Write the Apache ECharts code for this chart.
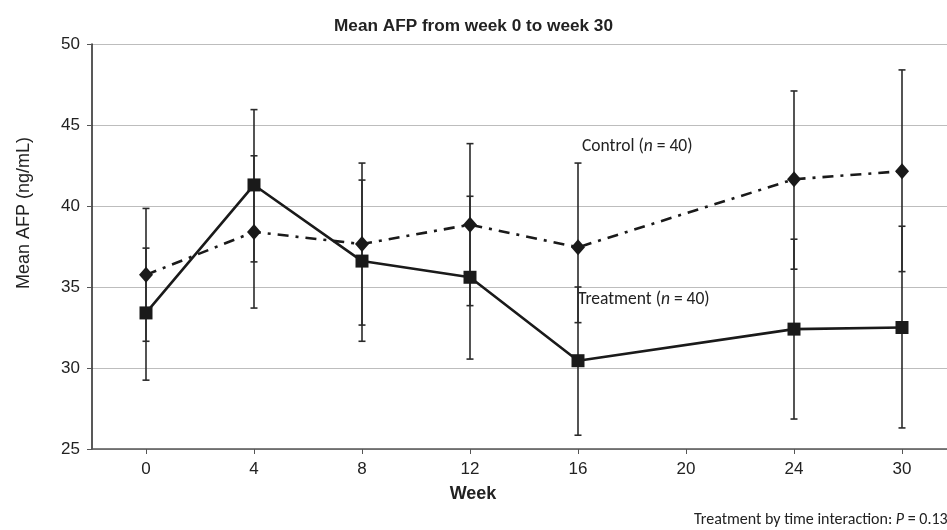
<!DOCTYPE html>
<html>
<head>
<meta charset="utf-8">
<script src="https://cdn.jsdelivr.net/npm/echarts@6/dist/echarts.min.js"></script>
<style>
html,body{margin:0;padding:0;background:#fff;}
#chart{width:947px;height:530px;}
</style>
</head>
<body>
<div id="chart"></div>
<script>
const weeks = ['0', '4', '8', '12', '16', '20', '24', '30'];
const treatment     = [33.4, 41.3, 36.6, 35.6, 30.45, null, 32.4, 32.5];
const treatmentLow  = [29.25, 36.55, 31.65, 30.55, 25.85, null, 26.85, 26.3];
const treatmentHigh = [37.4, 45.95, 41.6, 40.6, 35.0, null, 37.95, 38.75];
const control       = [35.75, 38.4, 37.65, 38.85, 37.45, null, 41.65, 42.15];
const controlLow    = [31.65, 33.7, 32.65, 33.85, 32.8, null, 36.1, 35.95];
const controlHigh   = [39.85, 43.1, 42.65, 43.85, 42.65, null, 47.1, 48.4];
const yTicks = [25, 30, 35, 40, 45, 50];

function errData(lo, hi) {
  const out = [];
  for (let i = 0; i < lo.length; i++) {
    if (lo[i] != null && hi[i] != null) out.push([i, lo[i], hi[i]]);
  }
  return out;
}

function renderErr(params, api) {
  const i = api.value(0);
  const p1 = api.coord([i, api.value(1)]);
  const p2 = api.coord([i, api.value(2)]);
  const cw = 3.5;
  const st = { stroke: '#2a2a2a', lineWidth: 1.6 };
  return {
    type: 'group',
    children: [
      { type: 'line', shape: { x1: p1[0], y1: p1[1], x2: p2[0], y2: p2[1] }, style: st },
      { type: 'line', shape: { x1: p1[0] - cw, y1: p1[1], x2: p1[0] + cw, y2: p1[1] }, style: st },
      { type: 'line', shape: { x1: p2[0] - cw, y1: p2[1], x2: p2[0] + cw, y2: p2[1] }, style: st }
    ]
  };
}

const chart = echarts.init(document.getElementById('chart'), null, { renderer: 'canvas' });
chart.setOption({
  animation: false,
  backgroundColor: '#fff',
  title: {
    text: 'Mean AFP from week 0 to week 30',
    left: 'center',
    top: 13,
    textStyle: { fontFamily: '"Liberation Sans", Arial, sans-serif', fontWeight: 'bold', fontSize: 17.2, color: '#222' }
  },
  grid: { left: 92, width: 864, top: 44, height: 405, containLabel: false, outerBoundsMode: 'none' },
  xAxis: {
    type: 'category',
    data: weeks,
    boundaryGap: true,
    axisLine: { lineStyle: { color: '#555', width: 1.5 } },
    axisTick: { show: true, alignWithLabel: true, length: 5, lineStyle: { color: '#555' } },
    axisLabel: { fontFamily: 'Liberation Sans, Arial, sans-serif', fontSize: 17, color: '#222', margin: 12 },
    splitLine: { show: false }
  },
  yAxis: {
    type: 'value',
    min: yTicks[0],
    max: yTicks[yTicks.length - 1],
    interval: 5,
    axisLine: { show: true, lineStyle: { color: '#222', width: 1.5 } },
    axisTick: { show: true, length: 5, lineStyle: { color: '#555' } },
    axisLabel: { fontFamily: 'Liberation Sans, Arial, sans-serif', fontSize: 17, color: '#222', margin: 12 },
    splitLine: { show: true, lineStyle: { color: '#bdbdbd', width: 1 } }
  },
  graphic: [
    {
      type: 'text', x: 24, y: 213, rotation: Math.PI / 2,
      style: { text: 'Mean AFP (ng/mL)', font: '18px "Liberation Sans", Arial, sans-serif', fill: '#222', textAlign: 'center', textVerticalAlign: 'middle' }
    },
    {
      type: 'text', x: 473, y: 494,
      style: { text: 'Week', font: 'bold 18px "Liberation Sans", Arial, sans-serif', fill: '#222', textAlign: 'center', textVerticalAlign: 'middle' }
    },
    {
      type: 'text', x: 582, y: 147,
      style: {
        text: 'Control ({i|n} = 40)', fill: '#222', fontFamily: 'Carlito, Lato, sans-serif', fontSize: 17.5,
        textVerticalAlign: 'middle',
        rich: { i: { fontStyle: 'italic', fontFamily: 'Carlito, Lato, sans-serif', fontSize: 17.5, fill: '#222' } }
      }
    },
    {
      type: 'text', x: 578, y: 300,
      style: {
        text: 'Treatment ({i|n} = 40)', fill: '#222', fontFamily: 'Carlito, Lato, sans-serif', fontSize: 17.5,
        textVerticalAlign: 'middle',
        rich: { i: { fontStyle: 'italic', fontFamily: 'Carlito, Lato, sans-serif', fontSize: 17.5, fill: '#222' } }
      }
    },
    {
      type: 'text', x: 694, y: 520,
      style: {
        text: 'Treatment by time interaction: {i|P} = 0.13', fill: '#222', fontFamily: 'Carlito, Lato, sans-serif', fontSize: 16,
        textVerticalAlign: 'middle',
        rich: { i: { fontStyle: 'italic', fontFamily: 'Carlito, Lato, sans-serif', fontSize: 16, fill: '#222' } }
      }
    }
  ],
  series: [
    {
      name: 'Control error',
      type: 'custom',
      renderItem: renderErr,
      data: errData(controlLow, controlHigh),
      z: 1,
      silent: true
    },
    {
      name: 'Treatment error',
      type: 'custom',
      renderItem: renderErr,
      data: errData(treatmentLow, treatmentHigh),
      z: 1,
      silent: true
    },
    {
      name: 'Control',
      type: 'line',
      data: control,
      connectNulls: true,
      symbol: 'diamond',
      symbolSize: [14, 16],
      itemStyle: { color: '#1a1a1a' },
      lineStyle: { color: '#1a1a1a', width: 2.6, type: [11, 7, 3, 7] },
      z: 3
    },
    {
      name: 'Treatment',
      type: 'line',
      data: treatment,
      connectNulls: true,
      symbol: 'rect',
      symbolSize: 13,
      itemStyle: { color: '#1a1a1a' },
      lineStyle: { color: '#1a1a1a', width: 2.6 },
      z: 4
    }
  ]
});
</script>
</body>
</html>
